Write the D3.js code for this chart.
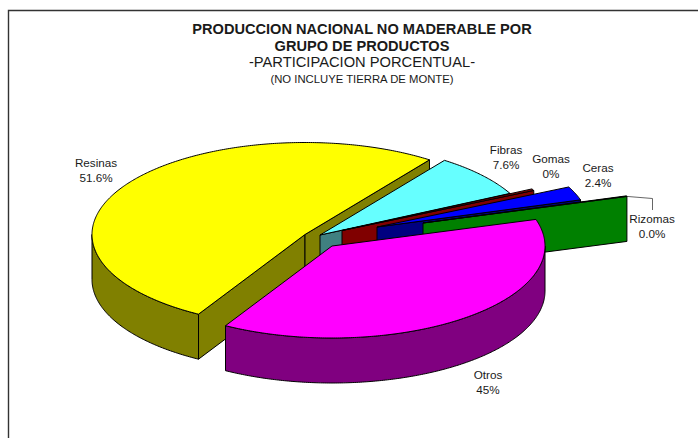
<!DOCTYPE html>
<html><head><meta charset="utf-8">
<script src="https://cdnjs.cloudflare.com/ajax/libs/d3/7.8.5/d3.min.js"></script>
<style>html,body{margin:0;padding:0;background:#fff;overflow:hidden}svg{display:block}text{font-family:"Liberation Sans",Arial,sans-serif;fill:#1a1a1a}</style>
</head><body><svg id="c" width="698" height="438"></svg>
<script>
// Data
const categories = ["Resinas","Fibras","Gomas","Ceras","Rizomas","Otros"];
const valueLabels = ["51.6%","7.6%","0%","2.4%","0.0%","45%"];
// Drawn share of each slice as measured on the picture (the printed "Otros" label differs from its drawn size)
const drawnShares = [51.6,7.6,0.3,2.4,0.1,38.0];
const titleLines = ["PRODUCCION NACIONAL NO MADERABLE POR","GRUPO DE PRODUCTOS","-PARTICIPACION PORCENTUAL-","(NO INCLUYE TIERRA DE MONTE)"];

// Layout and style
const topColors  = ["#ffff00","#66ffff","#800000","#0000ff","#008000","#ff00ff"];
const sideColors = ["#808000","#408080","#800000","#000080","#008000","#800080"];
const apexX = [305,320,342,377,423,332];
const apexY = [234.5,235,230.5,227,223,246];
const labelX = [96,506,551,598,652,488];
const labelY = [167,154,163,172,223,379];
const rx = 213, ry = 92, depth = 45;
const startDeg = 210;

const svg = d3.select("#c");
const xS = d3.scaleLinear().domain([-1,1]).range([-rx,rx]);
const yS = d3.scaleLinear().domain([-1,1]).range([-ry,ry]);
const rim = (i,t,dz=0)=>[apexX[i]+xS(Math.sin(t)), apexY[i]+yS(-Math.cos(t))+dz];
const line = d3.line();
const arcPts = (i,a,b,dz=0)=>{const n=Math.max(2,Math.ceil(Math.abs(b-a)/0.01));
  return d3.range(n+1).map(k=>rim(i,a+(b-a)*k/n,dz));};

// frame
svg.append("path").attr("d",line([[8.5,438],[8.5,10.5],[698,10.5]]))
  .attr("fill","none").attr("stroke","#333").attr("stroke-width",1.4);

const pie = d3.pie().sort(null)
  .startAngle(startDeg*Math.PI/180).endAngle((startDeg+360)*Math.PI/180);
const arcs = pie(drawnShares);

const ink = {stroke:"#000","stroke-width":1,"stroke-linejoin":"round"};
function draw(d,fill){const p=svg.append("path").attr("d",d).attr("fill",fill);
  Object.entries(ink).forEach(([k,v])=>p.attr(k,v));}

// leader line for Rizomas
const rizEnd = rim(4,arcs[4].endAngle);
svg.append("path").attr("d",line([rizEnd,[652.5,198.5],[652.5,210]]))
  .attr("fill","none").attr("stroke","#555").attr("stroke-width",0.9);

arcs.forEach((s,i)=>{
  const a=s.startAngle,b=s.endAngle, ax=apexX[i], ay=apexY[i];
  const face=t=>{const r=rim(i,t);
    draw(line([[ax,ay],r,[r[0],r[1]+depth],[ax,ay+depth]])+"Z",sideColors[i]);};
  // cut faces turned to the viewer
  if(-Math.sin(a)>0) face(a);
  if(Math.sin(b)>0) face(b);
  // outer wall: front half of the rim only (angles may run past one full turn)
  [0,2*Math.PI].forEach(turn=>{
    const wa=Math.max(a,Math.PI/2+turn), wb=Math.min(b,Math.PI*1.5+turn);
    if(wb>wa) draw(line([...arcPts(i,wa,wb),...arcPts(i,wb,wa,depth)])+"Z",sideColors[i]);
  });
  // top
  draw(line([[ax,ay],...arcPts(i,a,b)])+"Z",topColors[i]);
});

// titles
const tFont=[["bold",14.6],["bold",14.6],["normal",14.7],["normal",11.3]];
const tY=[33.5,51,67,83];
titleLines.forEach((t,i)=>svg.append("text").attr("x",362).attr("y",tY[i])
  .attr("text-anchor","middle").attr("font-weight",tFont[i][0]).attr("font-size",tFont[i][1]).text(t));

// labels
categories.forEach((c,i)=>{
  const g=svg.append("text").attr("text-anchor","middle").attr("font-size",11.7);
  g.append("tspan").attr("x",labelX[i]).attr("y",labelY[i]).text(c);
  g.append("tspan").attr("x",labelX[i]).attr("y",labelY[i]+14.5).text(valueLabels[i]);
});
</script></body></html>
